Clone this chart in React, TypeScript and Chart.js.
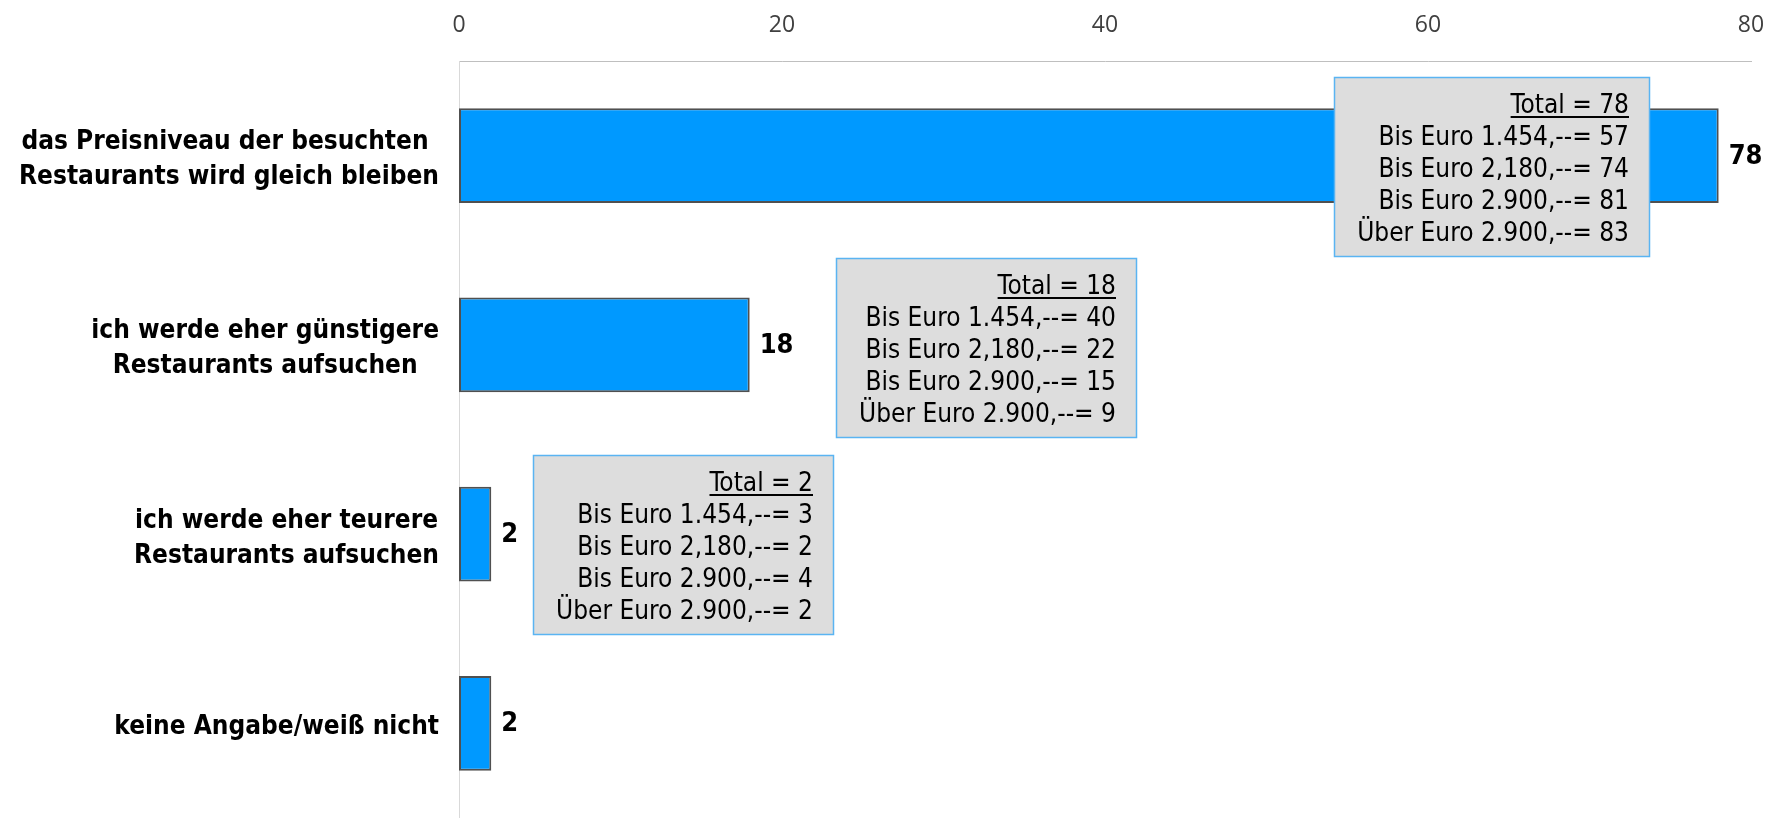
import React, { useEffect, useRef } from 'react';
import { Chart, registerables } from 'chart.js';

Chart.register(...registerables);

// ---------- data ----------
const CATEGORY_LINES: string[][] = [
  ['das Preisniveau der besuchten ', 'Restaurants wird gleich bleiben'],
  ['ich werde eher günstigere', 'Restaurants aufsuchen'],
  ['ich werde eher teurere', 'Restaurants aufsuchen'],
  ['keine Angabe/weiß nicht'],
];
const TOTALS = [78, 18, 2, 2];
const INCOME_GROUPS = ['Bis Euro 1.454,--', 'Bis Euro 2,180,--', 'Bis Euro 2.900,--', 'Über Euro 2.900,--'];
const BREAKDOWN_PREISNIVEAU = [57, 74, 81, 83];
const BREAKDOWN_GUENSTIGER = [40, 22, 15, 9];
const BREAKDOWN_TEURER = [3, 2, 4, 2];
const BREAKDOWNS: (number[] | null)[] = [BREAKDOWN_PREISNIVEAU, BREAKDOWN_GUENSTIGER, BREAKDOWN_TEURER, null];
const X_MIN = 0;
const X_MAX = 80;
const X_STEP = 20;

// ---------- layout / style ----------
const FONT = "'DejaVu Sans Condensed', 'Noto Sans', sans-serif";
const TICK_FONT = "'Open Sans', 'Noto Sans', sans-serif";
const CAT_FS = 26;
const CAT_LINE_H = 35;
const VALUE_FS = 27;
const BOX_FS = 26;
const BOX_LINE_H = 32;
const CALLOUT_LAYOUT = [
  { leftValue: 54.2, topOffset: -79 },
  { leftValue: 23.35, topOffset: -87 },
  { leftValue: 4.6, topOffset: -79 },
];

const overlayPlugin = {
  id: 'overlay',
  afterDatasetsDraw(chart: any) {
    const ctx: CanvasRenderingContext2D = chart.ctx;
    const xs = chart.scales.x;
    const ys = chart.scales.y;
    const area = chart.chartArea;
    ctx.save();

    // category labels: block right-aligned, lines centred
    ctx.font = `bold ${CAT_FS}px ${FONT}`;
    ctx.fillStyle = '#000000';
    ctx.textBaseline = 'alphabetic';
    ctx.textAlign = 'center';
    CATEGORY_LINES.forEach((lines, i) => {
      const cy = ys.getPixelForTick(i) + 4;
      const blockW = Math.max(...lines.map((l) => ctx.measureText(l).width));
      const right = area.left - 20;
      const cx = right - blockW / 2;
      lines.forEach((l, j) => {
        const ly = cy + (j - (lines.length - 1) / 2) * CAT_LINE_H + 0.27 * CAT_FS;
        ctx.fillText(l, cx, ly);
      });
    });

    // value labels
    ctx.font = `bold ${VALUE_FS}px ${FONT}`;
    ctx.textAlign = 'left';
    ctx.textBaseline = 'middle';
    const meta = chart.getDatasetMeta(0);
    meta.data.forEach((bar: any, i: number) => {
      ctx.fillText(String(TOTALS[i]), bar.x + 10, bar.y + 1);
    });

    // callout boxes
    BREAKDOWNS.forEach((vals, i) => {
      if (!vals) return;
      const lay = CALLOUT_LAYOUT[i];
      const lines = [`Total = ${TOTALS[i]}`, ...INCOME_GROUPS.map((g, k) => `${g}= ${vals[k]}`)];
      ctx.font = `${BOX_FS}px ${FONT}`;
      const maxW = Math.max(...lines.map((l) => ctx.measureText(l).width));
      const left = Math.round(xs.getPixelForValue(lay.leftValue));
      const top = Math.round(ys.getPixelForTick(i) + lay.topOffset);
      const w = Math.round(maxW + 43);
      const h = 179;
      ctx.fillStyle = '#DDDDDD';
      ctx.fillRect(left, top, w, h);
      ctx.strokeStyle = '#5AB4F2';
      ctx.lineWidth = 1.5;
      ctx.strokeRect(left + 0.5, top + 0.5, w, h);
      ctx.fillStyle = '#000000';
      ctx.textAlign = 'right';
      ctx.textBaseline = 'alphabetic';
      const tx = left + w - 20;
      lines.forEach((l, k) => {
        const by = top + 36 + k * BOX_LINE_H;
        ctx.fillText(l, tx, by);
        if (k === 0) {
          const tw = ctx.measureText(l).width;
          ctx.fillRect(tx - tw, by + 3, tw, 2);
        }
      });
    });

    ctx.restore();
  },
};

export default function App() {
  const canvasRef = useRef<HTMLCanvasElement | null>(null);

  useEffect(() => {
    if (!canvasRef.current) return;
    const chart = new Chart(canvasRef.current, {
      type: 'bar',
      data: {
        labels: CATEGORY_LINES,
        datasets: [
          {
            data: TOTALS,
            backgroundColor: '#0099FF',
            borderColor: '#505050',
            borderWidth: 2,
            borderSkipped: false,
            categoryPercentage: 1,
            barPercentage: 0.5,
          },
        ],
      },
      options: {
        indexAxis: 'y',
        animation: false,
        responsive: true,
        maintainAspectRatio: false,
        layout: { padding: { left: 459, right: 25, top: 0, bottom: 0 } },
        plugins: {
          legend: { display: false },
          tooltip: { enabled: false },
          title: { display: false },
        },
        scales: {
          x: {
            type: 'linear',
            position: 'top',
            min: X_MIN,
            max: X_MAX,
            grid: { display: false, drawTicks: false },
            border: { display: true, color: '#BFBFBF', width: 1 },
            ticks: {
              stepSize: X_STEP,
              padding: 0,
              color: '#404040',
              font: { size: 23, family: TICK_FONT, lineHeight: '72px' },
            },
            afterFit: (scale: any) => {
              scale.height = 61;
            },
          },
          y: {
            type: 'category',
            grid: { display: false, drawTicks: false },
            border: { display: true, color: '#D9D9D9', width: 1 },
            ticks: { display: false },
          },
        },
      },
      plugins: [overlayPlugin],
    });
    return () => chart.destroy();
  }, []);

  return (
    <div style={{ position: 'fixed', left: 0, top: 0, width: 1776, height: 818, background: '#ffffff' }}>
      <canvas ref={canvasRef} />
    </div>
  );
}
